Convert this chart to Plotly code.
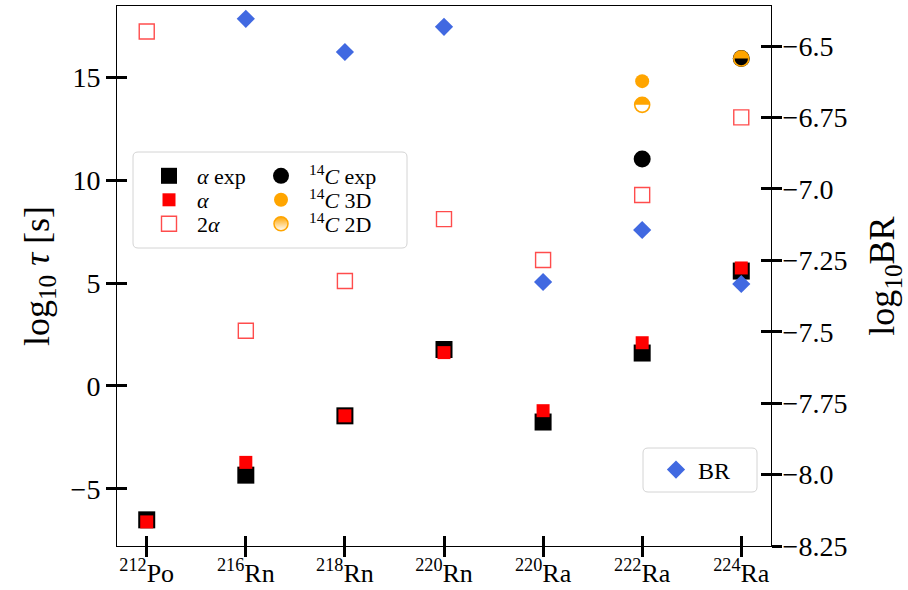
import numpy as np
import plotly.graph_objects as go

# ---------------- data ----------------
mass_numbers = ["212", "216", "218", "220", "220", "222", "224"]
elements = ["Po", "Rn", "Rn", "Rn", "Ra", "Ra", "Ra"]
tick_labels = [f"<sup>{m}</sup>{e}" for m, e in zip(mass_numbers, elements)]
x_idx = list(range(len(elements)))

alpha_exp = [-6.5, -4.33, -1.45, 1.77, -1.75, 1.6, 5.58]
alpha_calc = [-6.6, -3.71, -1.45, 1.62, -1.2, 2.1, 5.73]
two_alpha = [17.21, 2.68, 5.1, 8.1, 6.12, 9.27, 13.04]
c14_exp = [None, None, None, None, None, 11.02, 15.9]
c14_3d = [None, None, None, None, None, 14.8, None]
c14_2d = [None, None, None, None, None, 13.65, 15.9]
log_br = [None, -6.405, -6.521, -6.433, -7.326, -7.144, -7.333]

left_ticks = [-5, 0, 5, 10, 15]
left_ticktext = ["\u22125", "0", "5", "10", "15"]
right_ticks = [-8.25, -8.0, -7.75, -7.5, -7.25, -7.0, -6.75, -6.5]
right_ticktext = ["\u22128.25", "\u22128.0", "\u22127.75", "\u22127.5",
                  "\u22127.25", "\u22127.0", "\u22126.75", "\u22126.5"]

# ---------------- style ----------------
FONT = "Liberation Serif"
ORANGE = "#FFA500"
BLUE = "#4169E1"
XR = [-0.3, 6.3]
YR = [-7.77, 18.45]
Y2R = [-8.25, -6.36]
TICK = dict(ticklen=10, tickwidth=3, tickcolor="black")

fig = go.Figure()

fig.add_trace(go.Scatter(x=x_idx, y=alpha_exp, mode="markers", name="<i>α</i> exp",
                         marker=dict(symbol="square", size=17, color="black"),
                         legend="legend"))
fig.add_trace(go.Scatter(x=x_idx, y=alpha_calc, mode="markers", name="<i>α</i>",
                         marker=dict(symbol="square", size=13, color="red"),
                         legend="legend3"))
fig.add_trace(go.Scatter(x=x_idx, y=two_alpha, mode="markers", name="2<i>α</i>",
                         marker=dict(symbol="square-open", size=15,
                                     color="rgba(255,0,0,0.7)",
                                     line=dict(width=1.4, color="rgba(255,0,0,0.7)")),
                         legend="legend4"))
fig.add_trace(go.Scatter(x=x_idx, y=c14_exp, mode="markers", name="<sup>14</sup><i>C</i> exp",
                         marker=dict(symbol="circle", size=17, color="black"),
                         legend="legend5"))
fig.add_trace(go.Scatter(x=x_idx, y=c14_3d, mode="markers", name="<sup>14</sup><i>C</i> 3D",
                         marker=dict(symbol="circle", size=14, color=ORANGE),
                         legend="legend6"))
fig.add_trace(go.Scatter(x=x_idx, y=c14_2d, mode="markers", name="<sup>14</sup><i>C</i> 2D",
                         marker=dict(symbol="circle-open", size=15, color=ORANGE,
                                     line=dict(width=1.6, color=ORANGE)),
                         showlegend=False, legend="legend7"))
# legend entry for the half-filled 2D marker
fig.add_trace(go.Scatter(x=[None], y=[None], mode="markers", name="<sup>14</sup><i>C</i> 2D",
                         marker=dict(symbol="circle", size=14, color=ORANGE,
                                     gradient=dict(type="vertical", color="white"),
                                     line=dict(width=1.5, color=ORANGE)),
                         legend="legend7"))
fig.add_trace(go.Scatter(x=x_idx, y=log_br, mode="markers", name="BR", yaxis="y2",
                         marker=dict(symbol="diamond", size=14, color=BLUE),
                         legend="legend2"))
# empty carriers so the overlay axes (inner halves of the ticks) are drawn
fig.add_trace(go.Scatter(x=[None], y=[None], xaxis="x3", yaxis="y3", showlegend=False,
                         hoverinfo="skip"))
fig.add_trace(go.Scatter(x=[None], y=[None], xaxis="x3", yaxis="y4", showlegend=False,
                         hoverinfo="skip"))

# half-filled (top) circles for the 2D markers
def top_half_path(r):
    k = 0.5523 * r
    return (f"M {-r},0 C {-r},{k} {-k},{r} 0,{r} "
            f"C {k},{r} {r},{k} {r},0 Z")

shapes = []
for xi, yv in zip(x_idx, c14_2d):
    if yv is None:
        continue
    shapes.append(dict(type="path", xref="x", yref="y", xsizemode="pixel", ysizemode="pixel",
                       xanchor=xi, yanchor=yv, path=top_half_path(7.5),
                       fillcolor=ORANGE, line=dict(width=0), layer="above"))

# legend frames (rounded boxes), pixel offsets from top-left of plot area
def rounded_box(x0, y0, x1, y1, rad):
    Y0, Y1 = -y0, -y1
    return (f"M {x0+rad},{Y0} L {x1-rad},{Y0} Q {x1},{Y0} {x1},{Y0-rad} "
            f"L {x1},{Y1+rad} Q {x1},{Y1} {x1-rad},{Y1} L {x0+rad},{Y1} "
            f"Q {x0},{Y1} {x0},{Y1+rad} L {x0},{Y0-rad} Q {x0},{Y0} {x0+rad},{Y0} Z")

for box in [(16, 146, 290, 242), (526, 442, 640, 486)]:
    shapes.append(dict(type="path", xref="paper", yref="paper", xsizemode="pixel",
                       ysizemode="pixel", xanchor=0, yanchor=1, path=rounded_box(*box, 5),
                       fillcolor="white", line=dict(width=1, color="#d4d4d4"), layer="above"))

fig.update_layout(shapes=shapes)

PW, PH = 654, 540
def px_x(p):
    return (p - 117) / PW
def px_y(p):
    return (546 - p) / PH

def leg(xp, yp, size=22, iw=46):
    return dict(x=px_x(xp), y=px_y(yp), xanchor="left", yanchor="middle",
                bgcolor="rgba(0,0,0,0)", borderwidth=0,
                font=dict(family=FONT, size=size, color="black"), itemwidth=iw)

fig.update_layout(
    width=908, height=590,
    margin=dict(l=117, r=137, t=6, b=44, autoexpand=False),
    paper_bgcolor="white", plot_bgcolor="white",
    font=dict(family=FONT, color="black"),
    xaxis=dict(range=XR, tickvals=x_idx, ticktext=tick_labels, ticks="outside", **TICK,
               tickfont=dict(family=FONT, size=26), ticklabelstandoff=-6,
               showline=True, linecolor="black",
               linewidth=1, mirror=True, showgrid=False, zeroline=False, automargin=False),
    xaxis3=dict(range=XR, tickvals=x_idx, ticks="inside", **TICK, overlaying="x", anchor="y",
                showticklabels=False, showline=False, showgrid=False, zeroline=False),
    yaxis=dict(range=YR, tickvals=left_ticks, ticktext=left_ticktext, ticks="outside", **TICK,
               tickfont=dict(family=FONT, size=28), showline=True, linecolor="black",
               linewidth=1, showgrid=False, zeroline=False, automargin=False,
               title=dict(text="log<sub>10</sub> <i>τ</i> [s]", font=dict(family=FONT, size=36),
                          standoff=10)),
    yaxis3=dict(range=YR, tickvals=left_ticks, ticks="inside", **TICK, overlaying="y", anchor="x",
                side="left", showticklabels=False, showline=False, showgrid=False, zeroline=False),
    yaxis2=dict(range=Y2R, tickvals=right_ticks, ticktext=right_ticktext, ticks="outside", **TICK,
                tickfont=dict(family=FONT, size=28), ticklabelstandoff=-5,
                showline=True, linecolor="black",
                linewidth=1, overlaying="y", side="right", anchor="x", showgrid=False,
                zeroline=False, automargin=False,
                title=dict(text="log<sub>10</sub>BR", font=dict(family=FONT, size=36), standoff=22)),
    yaxis4=dict(range=Y2R, tickvals=right_ticks, ticks="inside", **TICK, overlaying="y",
                anchor="x", side="right", showticklabels=False, showline=False, showgrid=False,
                zeroline=False),
    legend=leg(141, 176),
    legend3=leg(141, 200),
    legend4=leg(141, 224),
    legend5=leg(253, 176),
    legend6=leg(253, 200),
    legend7=leg(253, 224),
    legend2=leg(654, 470, size=24, iw=34),
)

fig.write_html("out.html")
